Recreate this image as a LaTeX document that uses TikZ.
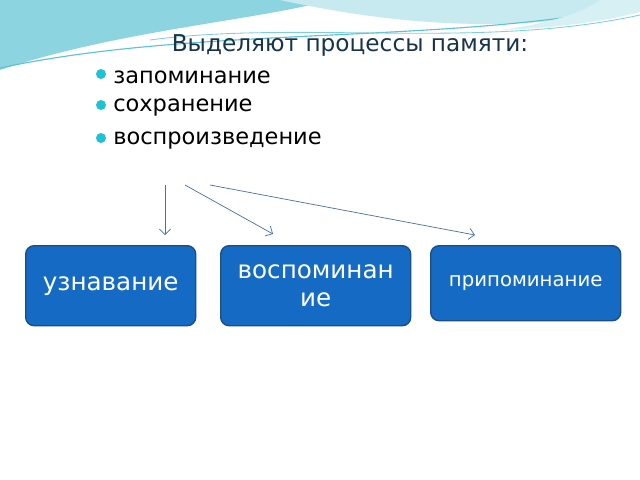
\documentclass[tikz,border=0pt]{standalone}
\usepackage{fontspec}
\setmainfont{DejaVu Sans}
\usetikzlibrary{positioning,arrows.meta}
\definecolor{boxblue}{HTML}{156BC4}
\definecolor{boxedge}{HTML}{1C4E86}
\definecolor{wave}{HTML}{5BC3D3}
\definecolor{bul}{HTML}{1EC3D3}
\definecolor{titlec}{HTML}{18344A}
\begin{document}
\begin{tikzpicture}[x=0.025cm,y=-0.025cm,
proc/.style={rectangle,draw=boxedge,line width=1pt,fill=boxblue,text=white,rounded corners=6pt,align=center,anchor=north west},
link/.style={draw=boxedge!80,line width=0.5pt,-{Straight Barb[length=4pt]}}]
\useasboundingbox (0,0) rectangle (640,480);
\fill[white] (0,0) rectangle (640,480);

% top waves
\fill[wave!70] (0,0) -- (0,70) .. controls (120,30) and (260,20) .. (330,0) -- cycle;
\fill[wave!35] (280,0) .. controls (420,30) and (520,30) .. (640,10) -- (640,0) -- cycle;
\draw[wave,line width=0.8pt] (0,68) .. controls (200,25) and (450,45) .. (640,5);
\draw[wave!80,line width=0.6pt] (150,40) .. controls (300,20) and (480,50) .. (640,15);
\fill[wave!25] (500,30) .. controls (560,28) and (610,20) .. (640,12) -- (640,0) -- (600,0) .. controls (580,15) and (540,25) .. (500,30);

% title and list
\node[text=titlec,font=\fontsize{16.5}{19}\selectfont] (title) at (350,45) {Выделяют процессы памяти:};
\foreach \y/\txt [count=\i] in {77/{ запоминание},108/сохранение,141/воспроизведение}{
  \fill[bul] (101,\y-3) circle (5);
  \node[anchor=west,inner sep=0pt,font=\fontsize{16}{19}\selectfont] (item\i) at (113,\y) {\txt};
}

% boxes
\node[proc,minimum width=170*0.025cm,minimum height=80*0.025cm,font=\fontsize{17.5}{20}\selectfont] (uzn) at (25,245) {узнавание};
\node[proc,minimum width=190*0.025cm,minimum height=80*0.025cm,font=\fontsize{17.5}{20}\selectfont] (vosp) at (220,245) {воспоминан\\ие};
\node[proc,minimum width=190*0.025cm,minimum height=75*0.025cm,font=\fontsize{14}{16}\selectfont] (prip) at (430,245) {припоминание};

% arrows
\coordinate (s1) at (165,185);
\coordinate (s2) at (185,185);
\coordinate (s3) at (210,185);
\coordinate (e1) at (165,235);
\coordinate (e2) at (273,234);
\coordinate (e3) at (475,235);
\path[link] (s1) -- (e1);
\path[link] (s2) -- (e2);
\path[link] (s3) -- (e3);
\end{tikzpicture}
\end{document}
